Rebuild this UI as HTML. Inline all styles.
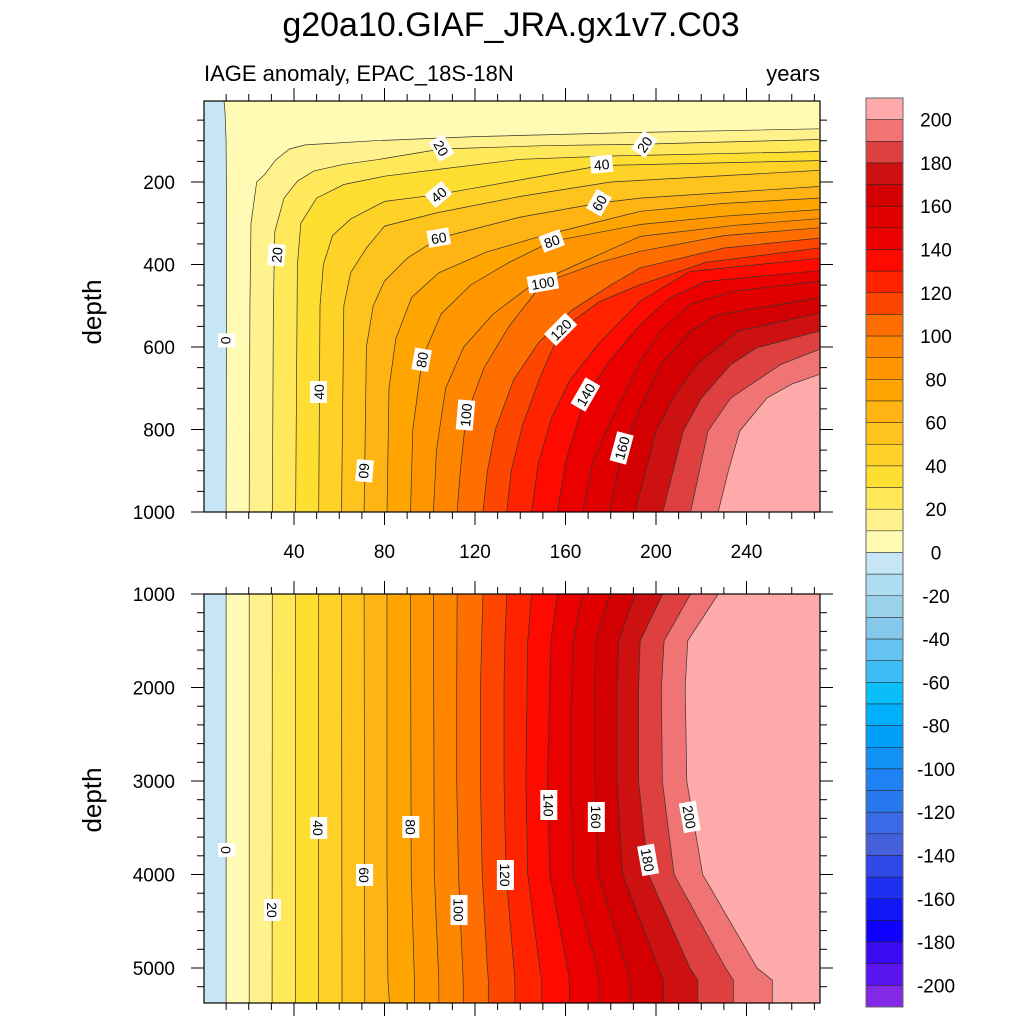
<!DOCTYPE html>
<html><head><meta charset="utf-8"><style>
html,body{margin:0;padding:0;background:#fff;width:1024px;height:1024px;overflow:hidden;}
svg{display:block;font-family:"Liberation Sans",sans-serif;}
</style></head><body>
<svg id="chart" width="1024" height="1024" viewBox="0 0 1024 1024" xmlns="http://www.w3.org/2000/svg">
<defs>
<clipPath id="clipTop"><rect x="204" y="101" width="616" height="411"/></clipPath>
<clipPath id="clipBot"><rect x="204" y="594" width="616" height="409"/></clipPath>
</defs>
<text x="511" y="36" font-size="34" text-anchor="middle">g20a10.GIAF_JRA.gx1v7.C03</text>
<text x="204" y="81" font-size="22">IAGE anomaly, EPAC_18S-18N</text>
<text x="820" y="81" font-size="22" text-anchor="end">years</text>
<text transform="translate(101,312) rotate(-90)" font-size="26" text-anchor="middle">depth</text>
<text transform="translate(101,800) rotate(-90)" font-size="26" text-anchor="middle">depth</text>
<g id="topPanel"></g>
<g id="botPanel"></g>
<g id="axes"></g>
<g id="colorbar"></g>
</svg>
<script>
const levels = [0,10,20,30,40,50,60,70,80,90,100,110,120,130,140,150,160,170,180,190,200];
// contour polylines [year, depth], deep -> shallow, one per level
const contours = [
 [[10,5375],[10,1000],[10.2,300],[10,100],[9.5,30],[9,0]],
 [[20.2,5375],[20.2,1000],[20.5,500],[21,300],[23.5,200],[27,182],[32,146],[38,120],[45,110],[75,100],[120,90],[190,80],[272,71]],
 [[30.3,5375],[30.4,1000],[30.9,500],[31.5,320],[35.6,239],[41.5,198],[48.8,173],[62,157],[76.7,146],[105,120],[150,112],[195,108],[272,97]],
 [[40.6,5375],[40.7,1000],[41.5,400],[43,300],[50,239],[62,206],[80,186],[103,170],[140,145],[180,137],[272,126]],
 [[50.8,5375],[50.9,1000],[51.5,500],[53,400],[57,330],[65,290],[80,247],[103,231],[140,195],[176,160],[272,148]],
 [[61.2,5375],[61,1000],[62,500],[65,420],[72,360],[80,307],[103,275],[140,235],[180,200],[272,172]],
 [[71.3,5375],[71,1000],[72,600],[75,500],[80,440],[90,385],[104,336],[140,285],[175,251],[193,239],[272,211]],
 [[82.2,5375],[81.5,5130],[81.1,4000],[81.1,1000],[82,700],[85,580],[92,480],[104,420],[125,370],[150,330],[193,271],[230,252],[272,239]],
 [[93.2,5375],[93.2,5130],[91.8,4000],[91.5,1000],[92.5,800],[96.7,627],[105,520],[118,450],[135,395],[154,344],[193,303],[230,283],[272,267]],
 [[104,5375],[104,5130],[102,4000],[101.6,1000],[103,850],[107,700],[115,600],[128,520],[145,450],[165,400],[193,332],[235,305],[272,289]],
 [[114.8,5375],[114.8,5130],[114.5,5000],[112.7,4000],[111.9,3000],[111.9,2000],[112.1,1000],[113.5,900],[116,768],[124,650],[135,550],[150,445],[175,395],[193,368],[230,330],[272,311]],
 [[125.9,5375],[125.9,5130],[125.5,5000],[123.2,4000],[122.4,3000],[122.4,2000],[123.5,1000],[125.5,900],[129,800],[137,680],[148,590],[163,510],[180,450],[193,408],[230,360],[272,336]],
 [[137.6,5375],[137.6,5130],[137.2,5000],[133.7,4000],[132.8,3000],[132.8,2000],[133.2,1500],[134,1000],[136,900],[141,790],[149,670],[158,558],[175,490],[193,449],[222,395],[272,360]],
 [[149.5,5375],[149.5,5130],[148.6,5000],[143.3,4000],[142.5,3000],[143,2000],[143.3,1500],[145,1000],[148,880],[154,770],[162,680],[175,590],[193,489],[215,417],[272,385]],
 [[161.7,5375],[161.7,5130],[160.8,5000],[153,4000],[152,3000],[153,2000],[153.5,1500],[156.4,1000],[160,880],[169,716],[180,630],[193,546],[206,481],[222,441],[272,415]],
 [[174.8,5375],[174.8,5130],[173.9,5000],[163.4,4000],[162.2,3000],[162.6,2000],[163.4,1500],[167.7,1000],[172,880],[180,780],[193,635],[202,562],[215,497],[234,465],[272,441]],
 [[188.5,5375],[188.5,5130],[187,5000],[174.4,4000],[173,3000],[172.7,2000],[173.4,1500],[179.4,1000],[185,845],[193,748],[202,643],[215,562],[227,522],[272,481]],
 [[203.3,5375],[203.3,5130],[201,5000],[185.3,4000],[182.7,3000],[182.7,2000],[183.5,1500],[190.8,1000],[200,804],[207.5,724],[218,643],[236,562],[272,518]],
 [[218.5,5375],[218.5,5130],[215,5000],[196.7,4000],[192.3,3000],[192.3,2000],[193,1500],[203,1000],[212,804],[220,724],[233,643],[244.5,602],[272,562]],
 [[234.2,5375],[234.2,5130],[230.7,5000],[208,4000],[202.8,3000],[202.4,2000],[203.6,1500],[215.3,1000],[223,804],[233,724],[255,643],[272,606]],
 [[251.4,5375],[251.4,5130],[244.7,5000],[220.6,4000],[213.6,3000],[212.9,2000],[214,1500],[227.5,1000],[232,900],[237,804],[249,724],[260,690],[272,667]]
];
// contour labels: text, year, depth, rotation
const labelText = ["20","20","40","40","60","60","80","100","120","140","160","0","20","40","60","80","100",
  "0","20","40","60","80","100","120","140","160","180","200"];
const labelYear = [105,195,176,104,104,175,154,150,158,169,185,10,32.5,51,71,96.6,116,
  10,30.2,50.7,71,91.4,112.7,133.2,152.4,173.4,196.3,214.7];
const labelDepth = [118,109,158,231,336,251,344,445,558,716,845,584,377,709,900,631,765,
  3738,4380,3503,4005,3492,4380,4005,3257,3385,3845,3385];
const labelRot = [60,-55,-5,-40,-10,-60,-20,-10,-45,-60,-75,90,-85,-90,95,-80,-85,
  90,90,90,90,90,90,90,90,90,80,80];
const xTicks = [40,80,120,160,200,240];
const yTicksTop = [200,400,600,800,1000];
const yTicksBot = [1000,2000,3000,4000,5000];
const cbTickValues = [200,180,160,140,120,100,80,60,40,20,0,-20,-40,-60,-80,-100,-120,-140,-160,-180,-200];
const bandColors = ["#8228e6","#5a14f0","#3c0af0","#1000ff","#1018f8","#2030f0","#3048e6","#4660dc","#3a6ae6","#2a78f0",
 "#1e82f5","#0f91f5","#00a0fa","#00b0fa","#0abefa","#3cbef5","#64c3f0","#86c8ec","#9ad2ec","#aedcf2","#c6e6f6",
 "#fffab4","#fff28c","#ffe85a","#ffde32","#ffd228","#ffc31e","#ffb414","#ffa500","#ff9600","#ff8700",
 "#ff6e00","#ff4600","#ff2300","#ff0a00","#eb0000","#e10000","#d20000","#cd1010","#de4040","#f07474","#ffaaaa"];

const NS = "http://www.w3.org/2000/svg";
const xS = yr => Math.min(820, 203.5 + yr * 2.2625);
const yTop = d => 99.5 + Math.min(1000, Math.max(0, d)) * 0.4125;
const yBot = d => 594 + (Math.min(5375, Math.max(1000, d)) - 1000) * 0.0935;
function mk(tag, attrs, parent) {
  const el = document.createElementNS(NS, tag);
  for (const k in attrs) el.setAttribute(k, attrs[k]);
  parent.appendChild(el);
  return el;
}
function bandColor(v) { return bandColors[Math.max(0, Math.min(41, Math.floor(v / 10) + 21))]; }

function drawPanel(g, yf, clip, lblFrom, lblTo, top, h) {
  const cg = mk("g", {"clip-path": "url(#" + clip + ")"}, g);
  const bg = mk("rect", {x: 204, y: top, width: 616, height: h, fill: bandColor(-5)}, cg);
  
  
  levels.forEach((lv, i) => {
    const pts = contours[i];
    const last = pts[pts.length - 1];
    const poly = pts.map(p => [xS(p[0]), yf(p[1])]);
    poly.push([xS(300), yf(last[1])], [xS(300), yf(6000)], [xS(pts[0][0]), yf(6000)]);
    const pg = mk("polygon", {points: poly.map(p => p[0].toFixed(1) + "," + p[1].toFixed(1)).join(" "), fill: bandColor(lv + 5)}, cg);
    
    
  });
  levels.forEach((lv, i) => {
    const pl = mk("polyline", {points: contours[i].map(p => xS(p[0]).toFixed(1) + "," + yf(p[1]).toFixed(1)).join(" "), fill: "none", stroke: "#333", "stroke-width": 0.7}, cg);
    
    
  });
  for (let k = lblFrom; k < lblTo; k++) {
    const lx = xS(labelYear[k]), ly = yf(labelDepth[k]);
    const lg = mk("g", {transform: "translate(" + lx.toFixed(1) + "," + ly.toFixed(1) + ") rotate(" + labelRot[k] + ")"}, cg);
    
    
    const w = labelText[k].length * 8 + 6;
    mk("rect", {x: -w / 2, y: -9, width: w, height: 17, fill: "#fff"}, lg);
    const t = mk("text", {x: 0, y: 5, "font-size": 14, "text-anchor": "middle"}, lg);
    t.textContent = labelText[k];
  }
  const fr = mk("rect", {x: 204, y: top, width: 616, height: h, fill: "none", stroke: "#000", "stroke-width": 1.2}, g);
  
  
}
drawPanel(document.getElementById("topPanel"), yTop, "clipTop", 0, 17, 101, 411);
drawPanel(document.getElementById("botPanel"), yBot, "clipBot", 17, 28, 594, 409);

const ax = document.getElementById("axes");
function tick(x1, y1, x2, y2) { mk("line", {x1, y1, x2, y2, stroke: "#000", "stroke-width": 1}, ax); }
[[101, 512], [594, 1003]].forEach(([t, b]) => {
  for (let yr = 10; yr <= 270; yr += 10) {
    const major = yr % 40 === 0;
    const L = major ? 13 : 7;
    tick(xS(yr), t, xS(yr), t - L);
    tick(xS(yr), b, xS(yr), Math.min(b + L, 1020));
  }
});
xTicks.forEach(v => {
  const t = mk("text", {x: xS(v), y: 558, "font-size": 19, "text-anchor": "middle"}, ax);
  
  
  t.textContent = v;
});
for (let d = 50; d <= 1000; d += 50) {
  const L = d % 200 === 0 ? 13 : 7;
  tick(204, yTop(d), 204 - L, yTop(d));
  tick(820, yTop(d), 820 + L, yTop(d));
}
for (let d = 1000; d <= 5375; d += 200) {
  const L = d % 1000 === 0 ? 13 : 7;
  tick(204, yBot(d), 204 - L, yBot(d));
  tick(820, yBot(d), 820 + L, yBot(d));
}
yTicksTop.forEach(v => {
  const t = mk("text", {x: 175, y: yTop(v) + 7, "font-size": 19, "text-anchor": "end"}, ax);
  
  
  t.textContent = v;
});
yTicksBot.forEach(v => {
  const t = mk("text", {x: 175, y: yBot(v) + 7, "font-size": 19, "text-anchor": "end"}, ax);
  
  
  t.textContent = v;
});

const cb = document.getElementById("colorbar");
const boxH = 909 / 42;
for (let i = 0; i < 42; i++) {
  const r = mk("rect", {x: 866, y: (98 + i * boxH).toFixed(2), width: 37, height: boxH.toFixed(2), fill: bandColors[41 - i], stroke: "#222", "stroke-width": 0.5}, cb);
  
  
}
mk("rect", {x: 866, y: 98, width: 37, height: 909, fill: "none", stroke: "#666", "stroke-width": 1}, cb);
cbTickValues.forEach(v => {
  const y = 98 + (210 - v) / 10 * boxH;
  const t = mk("text", {x: 936, y: y + 7, "font-size": 19, "text-anchor": "middle"}, cb);
  
  
  t.textContent = v;
});
</script>
</body></html>
